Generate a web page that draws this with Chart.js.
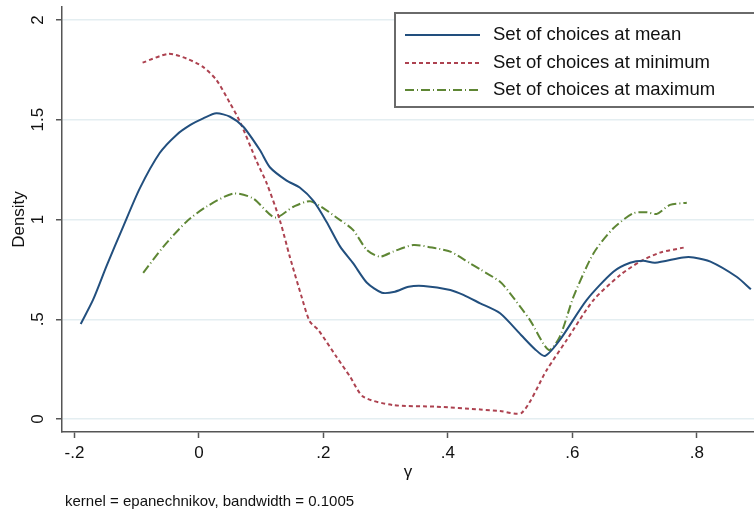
<!DOCTYPE html>
<html><head><meta charset="utf-8">
<script src="https://cdn.jsdelivr.net/npm/chart.js@4.4.1/dist/chart.umd.min.js"></script>
<style>html,body{margin:0;padding:0;background:#fff;overflow:hidden}</style>
</head><body>
<canvas id="c" width="754" height="513"></canvas>
<script>
// ---- data ----
const seriesNames = ["Set of choices at mean", "Set of choices at minimum", "Set of choices at maximum"];

const meanX = [-0.19,-0.17,-0.148,-0.122,-0.095,-0.063,-0.036,-0.013,0.007,0.028,0.05,0.071,0.098,0.114,0.141,0.162,0.184,0.205,0.227,0.248,0.27,0.294,0.315,0.337,0.361,0.404,0.425,0.452,0.484,0.518,0.54,0.556,0.58,0.623,0.666,0.693,0.714,0.733,0.778,0.795,0.822,0.864,0.887];
const meanY = [0.476,0.598,0.77,0.962,1.156,1.333,1.424,1.475,1.507,1.532,1.515,1.466,1.348,1.262,1.195,1.16,1.093,0.989,0.864,0.78,0.683,0.633,0.638,0.663,0.667,0.647,0.622,0.58,0.53,0.42,0.35,0.316,0.396,0.596,0.738,0.783,0.793,0.783,0.81,0.81,0.789,0.713,0.65];

const minX = [-0.0905,-0.049,-0.02,0.006,0.028,0.05,0.066,0.093,0.109,0.13,0.146,0.165,0.178,0.192,0.221,0.243,0.264,0.312,0.382,0.452,0.484,0.519,0.559,0.591,0.634,0.677,0.709,0.741,0.779];
const minY = [1.786,1.83,1.807,1.766,1.7,1.583,1.49,1.29,1.181,0.997,0.814,0.613,0.49,0.446,0.312,0.212,0.112,0.07,0.062,0.048,0.04,0.032,0.246,0.396,0.596,0.722,0.789,0.834,0.859];

const maxX = [-0.0895,-0.057,-0.02,0.012,0.055,0.087,0.122,0.152,0.18,0.227,0.248,0.27,0.291,0.312,0.345,0.382,0.404,0.436,0.452,0.484,0.5,0.532,0.562,0.58,0.602,0.634,0.666,0.698,0.72,0.736,0.757,0.784];
const maxY = [0.733,0.864,0.989,1.064,1.13,1.106,1.01,1.064,1.091,0.997,0.947,0.847,0.814,0.839,0.872,0.855,0.839,0.78,0.75,0.688,0.63,0.496,0.346,0.413,0.613,0.83,0.956,1.031,1.036,1.028,1.073,1.084];

const xTickVals = [-0.2, 0, 0.2, 0.4, 0.6, 0.8];
const xTickLabels = ["-.2", "0", ".2", ".4", ".6", ".8"];
const yTickVals = [0, 0.5, 1, 1.5, 2];
const yTickLabels = ["0", ".5", "1", "1.5", "2"];
const xTitle = "γ";
const yTitle = "Density";
const noteText = "kernel = epanechnikov, bandwidth = 0.1005";

// ---- styling ----
const FONT = "'Liberation Sans', Arial, Helvetica, sans-serif";
const colors = ["#224f7e", "#ad4250", "#5e8634"];
const dashes = [[], [4, 3], [9, 3, 1, 3]];
const axisColor = "#555";
const gridColor = "#e4eef1";

const pts = (xs, ys) => xs.map((x, i) => ({x: x, y: ys[i]}));
const datasets = [pts(meanX, meanY), pts(minX, minY), pts(maxX, maxY)].map((d, i) => ({
  label: seriesNames[i],
  data: d,
  borderColor: colors[i],
  borderWidth: 2,
  borderDash: dashes[i],
  pointRadius: 0,
  tension: 0.25,
  fill: false
}));

const extras = {
  id: 'extras',
  afterDraw(chart) {
    const ctx = chart.ctx;
    const ys = chart.scales.y;
    ctx.save();
    // rotated y tick labels
    ctx.fillStyle = "#111";
    ctx.font = "17px " + FONT;
    ctx.textAlign = "center";
    ctx.textBaseline = "middle";
    yTickVals.forEach((v, i) => {
      const py = ys.getPixelForValue(v);
      ctx.save();
      ctx.translate(38, py);
      ctx.rotate(-Math.PI / 2);
      ctx.fillText(yTickLabels[i], 0, 0);
      ctx.restore();
    });
    // note
    ctx.font = "15px " + FONT;
    ctx.textAlign = "left";
    ctx.textBaseline = "alphabetic";
    ctx.fillText(noteText, 65, 506);
    // legend box
    const bx = 395, by = 13, bw = 380, bh = 94;
    ctx.fillStyle = "#fff";
    ctx.fillRect(bx, by, bw, bh);
    ctx.strokeStyle = "#6a6a6a";
    ctx.lineWidth = 2;
    ctx.strokeRect(bx, by, bw, bh);
    const rows = [35, 63, 90];
    rows.forEach((ry, i) => {
      ctx.beginPath();
      ctx.setLineDash(dashes[i]);
      ctx.strokeStyle = colors[i];
      ctx.lineWidth = 2;
      ctx.moveTo(405, ry);
      ctx.lineTo(480, ry);
      ctx.stroke();
      ctx.setLineDash([]);
      ctx.fillStyle = "#111";
      ctx.font = "18.5px " + FONT;
      ctx.textBaseline = "middle";
      ctx.fillText(seriesNames[i], 493, ry);
    });
    ctx.restore();
  }
};

new Chart(document.getElementById('c'), {
  type: 'line',
  data: { datasets: datasets },
  options: {
    responsive: false,
    animation: false,
    devicePixelRatio: 1,
    layout: { padding: { top: 7, left: 0, right: 0, bottom: 0 } },
    plugins: { legend: { display: false }, tooltip: { enabled: false } },
    scales: {
      x: {
        type: 'linear',
        min: -0.22, max: 0.892,
        afterBuildTicks: s => { s.ticks = xTickVals.map(v => ({value: v})); },
        afterFit: s => { s.height = 81; },
        grid: { drawOnChartArea: false, drawTicks: true, tickLength: 6, tickColor: axisColor, tickWidth: 1.5 },
        border: { color: axisColor, width: 1.5 },
        ticks: {
          autoSkip: false, maxRotation: 0, minRotation: 0, padding: 5,
          color: "#111", font: { family: FONT, size: 17 },
          callback: (v) => xTickLabels[xTickVals.indexOf(v)]
        },
        title: { display: true, text: xTitle, color: "#111", font: { family: FONT, size: 17 }, padding: { top: 0, bottom: 30 } }
      },
      y: {
        type: 'linear',
        min: -0.065, max: 2.065,
        afterBuildTicks: s => { s.ticks = yTickVals.map(v => ({value: v})); },
        afterFit: s => { s.width = 62; },
        grid: { color: gridColor, lineWidth: 1.5, drawTicks: true, tickLength: 6, tickColor: axisColor, tickWidth: 1.5 },
        border: { color: axisColor, width: 1.5 },
        ticks: { display: false },
        title: { display: true, text: yTitle, color: "#111", font: { family: FONT, size: 17 }, padding: { top: 9, bottom: 0 } }
      }
    }
  },
  plugins: [extras]
});
</script>
</body></html>
